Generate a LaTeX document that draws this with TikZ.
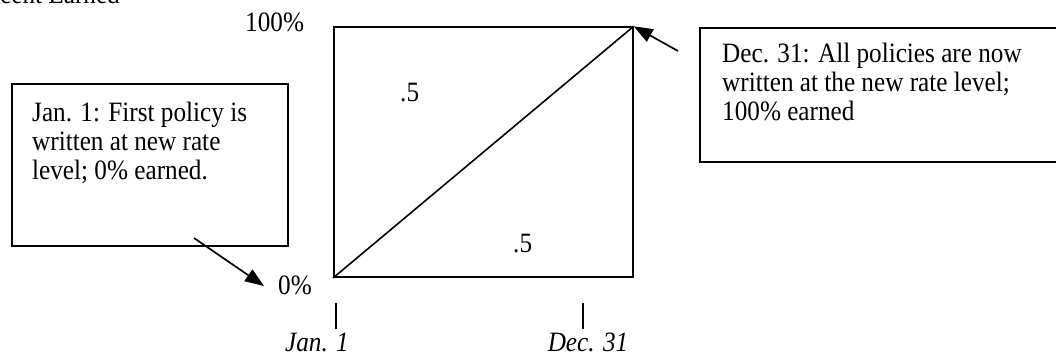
\documentclass[tikz,border=0pt]{standalone}
\usepackage{fontspec}
\setmainfont[FakeStretch=0.9]{Liberation Serif}
\usetikzlibrary{arrows.meta}
\begin{document}
\begin{tikzpicture}[x=1pt,y=-1pt,
  lbl/.style={inner sep=0pt, font=\fontsize{28}{29}\selectfont},
  boxtext/.style={lbl, align=left, anchor=north west},
  frame/.style={draw, line width=1.7pt, inner sep=0pt},
  ptr/.style={line width=1.7pt, -{Triangle[length=19pt,width=14pt]}},
  tickmark/.style={line width=1.3pt}]
\useasboundingbox (0,0) rectangle (1056,355);
% plot square
\node[frame, minimum width=299pt, minimum height=250pt, anchor=south west] (sq) at (333,278) {};
\draw[line width=1.6pt] (sq.south west) -- (sq.north east);
% boxes
\node[frame, minimum width=276pt, minimum height=162pt, anchor=north west] (lbox) at (11,83) {};
\node[frame, minimum width=380pt, minimum height=134pt, anchor=north west] (rbox) at (699,27) {};
\node[boxtext] (ltext) at (32,102) {Jan. 1: First policy is\\written at new rate\\level; 0\% earned.};
\node[boxtext] (rtext) at (722,43) {Dec. 31: All policies are now\\written at the new rate level;\\100\% earned};
% labels
\node[lbl, anchor=base west] (title) at (0,4) {cent Earned};
\node[lbl, anchor=base west] (top) at (245,32) {100\%};
\node[lbl, anchor=base west] (zero) at (278,294) {0\%};
\node[lbl, anchor=base west] (uh) at (400,102) {.5};
\node[lbl, anchor=base west] (lh) at (513,252) {.5};
\node[lbl, anchor=base, font=\fontsize{28}{29}\selectfont\itshape] (jan) at (317,351) {Jan. 1};
\node[lbl, anchor=base, font=\fontsize{28}{29}\selectfont\itshape] (dec) at (588,351) {Dec. 31};
% ticks
\draw[tickmark] (336,303) -- (336,329);
\draw[tickmark] (583,303) -- (583,329);
% pointers
\coordinate (la) at (194,238);
\coordinate (zt) at (264,286);
\coordinate (ra) at (678,51);
\draw[ptr] (la) -- (zt);
\draw[ptr] (ra) -- (sq.north east);
\end{tikzpicture}
\end{document}
